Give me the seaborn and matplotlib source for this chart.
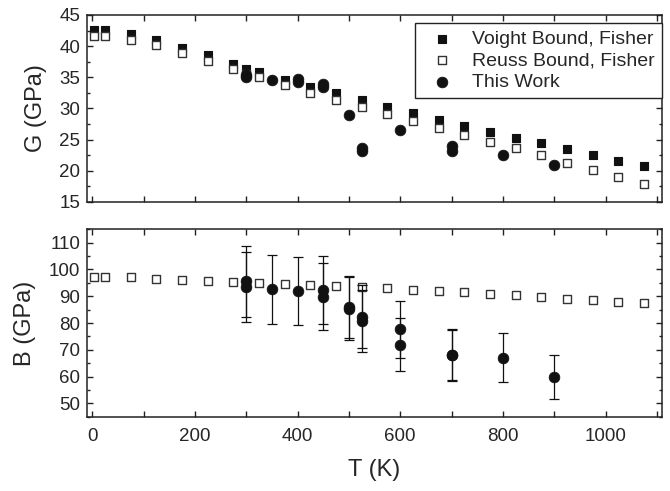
import numpy as np
import matplotlib
matplotlib.use("Agg")
import matplotlib.pyplot as plt
from matplotlib.ticker import MultipleLocator
import seaborn as sns

# Fisher bounds (shared temperatures)
T_fisher = [4, 25, 75, 125, 175, 225, 275, 300, 325, 375, 425, 475, 525,
            575, 625, 675, 725, 775, 825, 875, 925, 975, 1025, 1075]
G_voigt = [42.6, 42.6, 41.9, 40.9, 39.7, 38.5, 37.1, 36.4, 35.8, 34.6, 33.5, 32.4, 31.3,
           30.2, 29.3, 28.2, 27.2, 26.3, 25.3, 24.4, 23.5, 22.5, 21.6, 20.8]
G_reuss = [41.7, 41.7, 41.0, 40.1, 38.9, 37.6, 36.3, 35.6, 35.0, 33.7, 32.5, 31.4, 30.2,
           29.1, 28.0, 26.9, 25.8, 24.7, 23.6, 22.5, 21.3, 20.1, 19.0, 17.9]
B_reuss = [97.3, 97.3, 97.0, 96.6, 96.1, 95.8, 95.4, 95.2, 95.0, 94.6, 94.1, 93.8, 93.3,
           92.9, 92.3, 91.9, 91.4, 90.9, 90.3, 89.6, 89.0, 88.5, 88.0, 87.5]

# this work
T_G = [300, 300, 350, 400, 400, 450, 450, 500, 525, 525, 600, 700, 700, 800, 900]
G_work = [35.4, 35.0, 34.6, 34.7, 34.3, 34.0, 33.4, 29.0, 23.6, 23.2, 26.5, 24.0, 23.2, 22.6, 20.9]

T_B = [300, 300, 350, 400, 450, 450, 500, 500, 525, 525, 600, 600, 700, 700, 800, 900]
B_work = [95.6, 93.5, 92.6, 91.9, 92.3, 89.8, 86.0, 85.3, 82.3, 80.8, 77.6, 71.9, 68.1, 67.9, 67.1, 59.9]
B_err = [13.2, 13.2, 12.9, 12.7, 12.6, 12.5, 11.7, 11.7, 11.8, 11.6, 10.8, 10.0, 9.5, 9.5, 9.2, 8.3]

sns.set_style("ticks")
plt.rcParams['font.family'] = ['Liberation Sans', 'DejaVu Sans']

fig = plt.figure(figsize=(6.7, 4.91), dpi=100)
ax1 = fig.add_axes([0.130, 0.5886, 0.858, 0.381])
ax2 = fig.add_axes([0.130, 0.1513, 0.858, 0.3817])

sq = 32
circ = 60

# G panel
sns.scatterplot(x=T_fisher, y=G_voigt, ax=ax1, marker='s', s=sq, color='#111111',
                edgecolor='#111111', linewidth=0.8, label='Voight Bound, Fisher', zorder=3)
sns.scatterplot(x=T_fisher, y=G_reuss, ax=ax1, marker='s', s=sq, color='white',
                edgecolor='#333333', linewidth=1.0, label='Reuss Bound, Fisher', zorder=4)
sns.scatterplot(x=T_G, y=G_work, ax=ax1, marker='o', s=circ, color='#111111',
                edgecolor='#111111', linewidth=0.5, label='This Work', zorder=5)

# B panel
sns.scatterplot(x=T_fisher, y=B_reuss, ax=ax2, marker='s', s=sq, color='white',
                edgecolor='#333333', linewidth=1.0, zorder=3, legend=False)
ax2.errorbar(T_B, B_work, yerr=B_err, fmt='none', ecolor='#111111', elinewidth=0.9,
             capsize=3.5, capthick=0.9, zorder=4)
sns.scatterplot(x=T_B, y=B_work, ax=ax2, marker='o', s=circ, color='#111111',
                edgecolor='#111111', linewidth=0.5, zorder=5, legend=False)

for ax in (ax1, ax2):
    ax.set_xlim(-10, 1110)
    ax.xaxis.set_major_locator(MultipleLocator(200))
    ax.xaxis.set_minor_locator(MultipleLocator(100))
    ax.tick_params(which='both', direction='in', top=True, right=True, labelsize=13.5,
                   width=1.0, color='#222222')
    ax.tick_params(axis='x', which='both', length=4.5, pad=8)
    ax.tick_params(axis='y', which='major', length=4.5, pad=5)
    ax.tick_params(axis='y', which='minor', length=2.5)
    for sp in ax.spines.values():
        sp.set_linewidth(1.1)
        sp.set_color('#222222')

ax1.set_ylim(15, 45)
ax1.yaxis.set_major_locator(MultipleLocator(5))
ax1.yaxis.set_minor_locator(MultipleLocator(2.5))
ax1.tick_params(axis='x', labelbottom=False)
ax1.set_ylabel('G (GPa)', fontsize=17, labelpad=9)

ax2.set_ylim(45, 115)
ax2.yaxis.set_major_locator(MultipleLocator(10))
ax2.yaxis.set_minor_locator(MultipleLocator(5))
ax2.set_ylabel('B (GPa)', fontsize=17, labelpad=9)
ax2.set_xlabel('T (K)', fontsize=17, labelpad=10)

fig.align_ylabels([ax1, ax2])

leg = ax1.legend(loc='upper right', bbox_to_anchor=(1.0, 0.955), borderaxespad=0,
                 fontsize=14, frameon=True, fancybox=False, framealpha=1,
                 edgecolor='#222222', labelspacing=0.2, handletextpad=0.5,
                 borderpad=0.35, handlelength=2.1)
leg.get_frame().set_linewidth(1.0)

fig.savefig('out.png', dpi=100)
